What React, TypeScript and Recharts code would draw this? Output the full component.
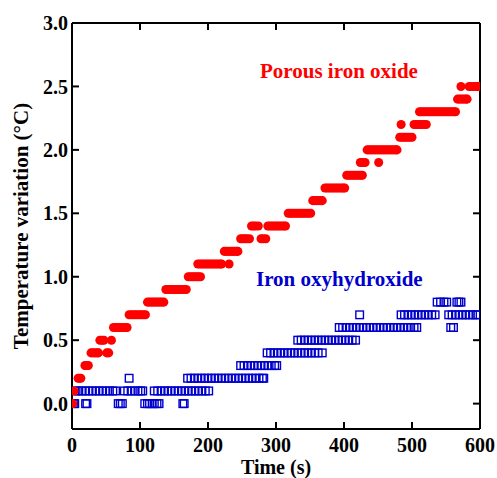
import { ScatterChart, Scatter, XAxis, YAxis, ZAxis } from "recharts";

const timeTicks = [0, 100, 200, 300, 400, 500, 600];
const topTicks = [100, 200, 300, 400, 500];
const tempTicks = [0, 0.5, 1, 1.5, 2, 2.5, 3];
const sideTicks = [0, 0.5, 1, 1.5, 2, 2.5];

// porous iron oxide: each temperature level (°C) and the times (s) it was read
const oxideLevels = [0, 0.1, 0.2, 0.3, 0.4, 0.5, 0.6, 0.7, 0.8, 0.9, 1.0, 1.1, 1.2, 1.3, 1.4, 1.5, 1.6, 1.7, 1.8, 1.9, 2.0, 2.1, 2.2, 2.3, 2.4, 2.5];
const oxideTimes = [
  [1],
  [3],
  [9, 11, 13],
  [19, 21, 24],
  [28, 31, 34, 37, 39, 51, 54],
  [41, 44, 47, 58],
  [61, 64, 67, 70, 73, 76, 79, 81],
  [84, 87, 90, 93, 96, 99, 102, 105, 108],
  [111, 114, 117, 120, 123, 126, 129, 132, 135],
  [138, 141, 144, 147, 150, 153, 156, 159, 162, 165, 168],
  [171, 174, 177, 180, 183, 186, 189],
  [185, 188, 191, 194, 197, 200, 203, 206, 209, 212, 215, 218, 220, 231],
  [224, 227, 230, 233, 236, 239, 242, 244],
  [248, 251, 254, 257, 261, 278, 281, 285],
  [264, 267, 270, 274, 288, 291, 294, 297, 300, 303, 306, 309, 312, 314],
  [318, 321, 324, 327, 330, 333, 336, 339, 342, 345, 348, 351],
  [354, 357, 360, 363, 366, 368],
  [372, 375, 378, 381, 384, 387, 390, 393, 396, 399, 401],
  [404, 407, 410, 413, 416, 419, 422, 425, 427],
  [424, 427, 431, 451],
  [434, 437, 440, 443, 446, 449, 452, 455, 458, 461, 464, 467, 470, 473, 476, 478],
  [482, 485, 488, 491, 494, 497, 500],
  [484, 503, 506, 509, 512, 515, 518, 521],
  [511, 514, 517, 520, 523, 526, 529, 532, 535, 538, 541, 544, 547, 550, 553, 556, 559, 562, 564],
  [567, 570, 573, 576, 579, 581],
  [572, 584, 587, 590, 593, 596, 598],
];

// iron oxyhydroxide
const hydroxideLevels = [0, 0.1, 0.2, 0.3, 0.4, 0.5, 0.6, 0.7, 0.8];
const hydroxideTimes = [
  [2, 4, 20, 22, 68, 71, 74, 107, 111, 114, 118, 121, 125, 128, 163, 165],
  [6, 10, 15, 20, 25, 30, 35, 40, 45, 50, 55, 60, 64, 77, 82, 87, 92, 97, 101, 104,
    121, 126, 131, 136, 141, 146, 151, 156, 161, 166, 171, 176, 181, 186, 191, 196, 201],
  [84, 170, 175, 180, 185, 190, 195, 200, 205, 210, 215, 220, 225, 230, 235, 240, 245, 250, 255, 260, 265, 270, 275, 280, 282],
  [248, 253, 258, 263, 268, 273, 278, 283, 288, 293, 298, 301],
  [287, 292, 297, 302, 307, 312, 317, 322, 327, 332, 337, 342, 347, 352, 357, 362, 368],
  [332, 337, 342, 347, 352, 357, 362, 367, 372, 377, 382, 387, 392, 397, 402, 407, 412, 417],
  [393, 398, 403, 408, 413, 418, 423, 428, 433, 438, 443, 448, 453, 458, 463, 468, 473, 478, 483, 488, 493, 498, 503, 507, 557, 561],
  [423, 484, 489, 494, 499, 504, 509, 514, 519, 524, 529, 534, 554, 559, 564, 569, 574, 579, 584, 589, 594, 597],
  [537, 542, 547, 551, 566, 569, 572],
];

const toPoints = (levels: number[], times: number[][]) =>
  levels.flatMap((v, i) => times[i].map((t) => ({ time: t, temp: v })));

const oxideData = toPoints(oxideLevels, oxideTimes);
const hydroxideData = toPoints(hydroxideLevels, hydroxideTimes);

const font = "'Liberation Serif', 'Times New Roman', serif";
const tickStyle = { fontSize: 20, fontWeight: 700, fill: "#000", fontFamily: font };
const blank = () => "";

const Square = (props: any) => (
  <rect
    x={props.cx - 3.8}
    y={props.cy - 3.8}
    width={7.6}
    height={7.6}
    fill="none"
    stroke="#0000cc"
    strokeWidth={1.4}
  />
);

export default function App() {
  return (
    <div style={{ position: "absolute", left: 0, top: 0, width: 497, height: 478, background: "#fff" }}>
      <ScatterChart width={497} height={478} margin={{ top: 22, right: 16, bottom: 19, left: 12 }}>
        <XAxis
          xAxisId="b"
          type="number"
          dataKey="time"
          domain={[0, 600]}
          ticks={timeTicks}
          tick={tickStyle}
          tickSize={-7}
          tickMargin={16}
          height={30}
          axisLine={{ stroke: "#000", strokeWidth: 2 }}
          tickLine={{ stroke: "#000", strokeWidth: 2 }}
          allowDataOverflow
        />
        <XAxis
          xAxisId="t"
          orientation="top"
          type="number"
          dataKey="time"
          domain={[0, 600]}
          ticks={topTicks}
          tickFormatter={blank}
          tickSize={-7}
          height={1}
          axisLine={{ stroke: "#000", strokeWidth: 2 }}
          tickLine={{ stroke: "#000", strokeWidth: 2 }}
          allowDataOverflow
        />
        <YAxis
          yAxisId="l"
          type="number"
          dataKey="temp"
          domain={[-0.2, 3]}
          ticks={tempTicks}
          tickFormatter={(v: number) => v.toFixed(1)}
          tick={tickStyle}
          tickSize={-7}
          tickMargin={11}
          width={60}
          axisLine={{ stroke: "#000", strokeWidth: 2 }}
          tickLine={{ stroke: "#000", strokeWidth: 2 }}
          allowDataOverflow
        />
        <YAxis
          yAxisId="r"
          orientation="right"
          type="number"
          dataKey="temp"
          domain={[-0.2, 3]}
          ticks={sideTicks}
          tickFormatter={blank}
          tickSize={-7}
          width={1}
          axisLine={{ stroke: "#000", strokeWidth: 2 }}
          tickLine={{ stroke: "#000", strokeWidth: 2 }}
          allowDataOverflow
        />
        <ZAxis range={[50, 50]} />
        <Scatter
          xAxisId="b"
          yAxisId="l"
          data={hydroxideData}
          shape={Square}
          isAnimationActive={false}
        />
        <Scatter
          xAxisId="b"
          yAxisId="l"
          data={oxideData}
          fill="#ff0000"
          shape="circle"
          isAnimationActive={false}
        />
      </ScatterChart>
      <svg
        width={497}
        height={478}
        style={{ position: "absolute", left: 0, top: 0, pointerEvents: "none" }}
        fontFamily={font}
        fontWeight={700}
        fontSize={21}
      >
        <text x={260} y={78} fill="#ff0000">Porous iron oxide</text>
        <text x={256} y={286} fill="#0000cc">Iron oxyhydroxide</text>
        <text x={276} y={474} textAnchor="middle" fill="#000" fontSize={20}>Time (s)</text>
        <text x={28} y={226} textAnchor="middle" fill="#000" transform="rotate(-90 28 226)">
          Temperature variation (°C)
        </text>
      </svg>
    </div>
  );
}
